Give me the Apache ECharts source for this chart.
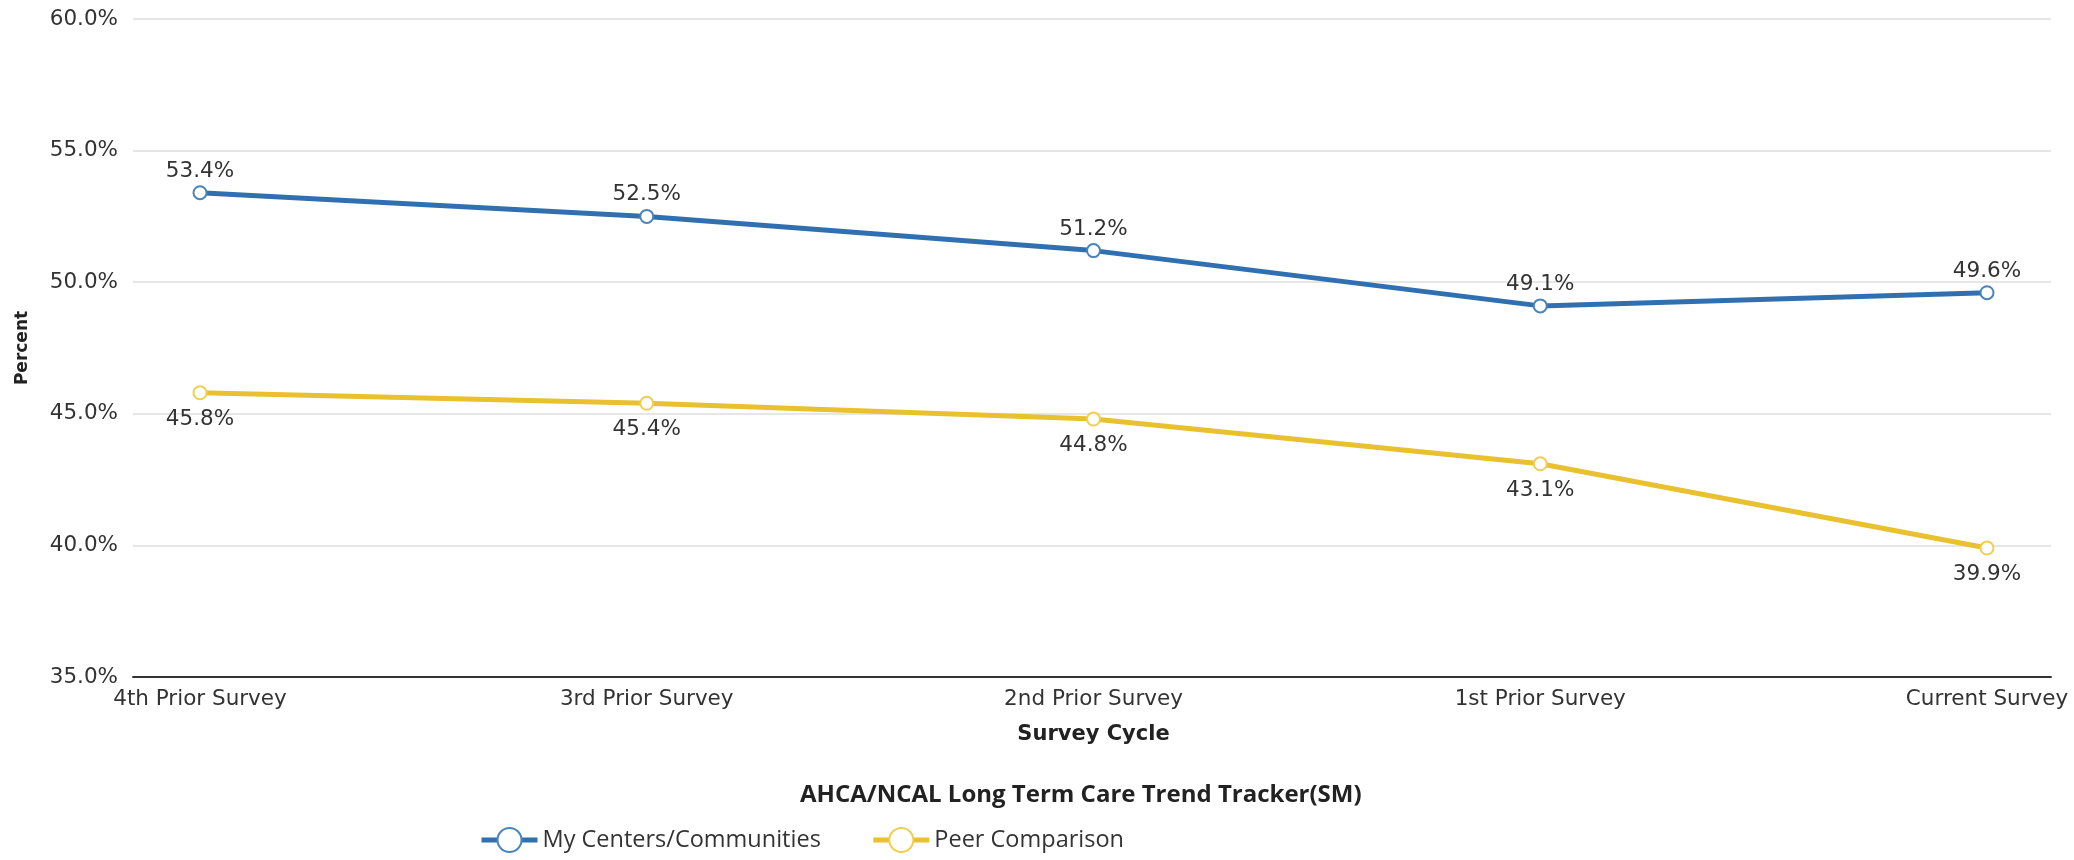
<!DOCTYPE html>
<html>
<head>
<meta charset="utf-8">
<script src="https://cdn.jsdelivr.net/npm/echarts@6/dist/echarts.min.js"></script>
<style>
  html, body { margin: 0; padding: 0; background: #fff; }
  #trendChart { width: 2074px; height: 860px; }
</style>
</head>
<body>
<div id="trendChart"></div>
<script>
// survey cycles and percent values
var surveyCycles = ['4th Prior Survey', '3rd Prior Survey', '2nd Prior Survey', '1st Prior Survey', 'Current Survey'];
var myCenters = [53.4, 52.5, 51.2, 49.1, 49.6];
var peerComparison = [45.8, 45.4, 44.8, 43.1, 39.9];
var percentTicks = [35, 40, 45, 50, 55, 60];

var chart = echarts.init(document.getElementById('trendChart'));
var axisFont = 'DejaVu Sans, Verdana, sans-serif';

var option = {
  animation: false,
  title: {
    text: 'AHCA/NCAL Long Term Care Trend Tracker(SM)',
    left: 795,
    top: 778,
    textStyle: { fontFamily: 'Open Sans', fontWeight: 'bold', fontSize: 24, color: '#222' }
  },
  legend: {
    left: 474,
    top: 822,
    itemWidth: 56,
    itemHeight: 30,
    itemGap: 50,
    lineStyle: { width: 5 },
    textStyle: { fontFamily: 'Open Sans', fontSize: 23.5, color: '#333' },
    data: ['My Centers/Communities', 'Peer Comparison']
  },
  grid: [
    // outer grid: gridlines and axis line span the full plot
    { left: 133, right: 23, top: 19, bottom: 183 },
    // inner grid: where the points sit
    { left: 200, right: 87, top: 19, bottom: 183 }
  ],
  xAxis: [{
    gridIndex: 0,
    type: 'value',
    min: 0,
    max: 1,
    axisLine: { show: true, lineStyle: { color: '#333', width: 2 } },
    axisTick: { show: false },
    axisLabel: { show: false },
    splitLine: { show: false }
  }, {
    gridIndex: 1,
    type: 'category',
    boundaryGap: false,
    data: surveyCycles,
    axisLine: { show: false },
    axisTick: { show: false },
    axisLabel: { margin: 11, fontFamily: axisFont, fontSize: 21.5, color: '#333' },
    name: 'Survey Cycle',
    nameLocation: 'middle',
    nameGap: 47,
    nameTextStyle: { fontFamily: axisFont, fontWeight: 'bold', fontSize: 21, color: '#222' }
  }],
  yAxis: [{
    gridIndex: 0,
    type: 'value',
    min: percentTicks[0],
    max: percentTicks[percentTicks.length - 1],
    interval: 5,
    axisLine: { show: false },
    axisTick: { show: false },
    axisLabel: {
      margin: 15,
      fontFamily: axisFont, fontSize: 21.5, color: '#333',
      formatter: function (v) { return v.toFixed(1) + '%'; }
    },
    splitLine: { lineStyle: { color: '#e6e6e6', width: 2 } },
    name: 'Percent',
    nameLocation: 'middle',
    nameGap: 102,
    nameTextStyle: { fontFamily: axisFont, fontWeight: 'bold', fontSize: 17, color: '#222' }
  }, {
    gridIndex: 1,
    type: 'value',
    min: percentTicks[0],
    max: percentTicks[percentTicks.length - 1],
    show: false,
    splitLine: { show: false }
  }],
  series: [{
    name: 'My Centers/Communities',
    type: 'line',
    xAxisIndex: 1,
    yAxisIndex: 1,
    data: myCenters,
    symbol: 'circle',
    symbolSize: 13,
    color: '#3170b0',
    lineStyle: { width: 5, color: '#3170b0' },
    itemStyle: { color: '#fff', borderColor: '#4a84bd', borderWidth: 2 },
    label: {
      show: true, position: 'top', distance: 3,
      fontFamily: axisFont, fontSize: 21.5, color: '#333',
      formatter: function (p) { return p.value.toFixed(1) + '%'; }
    }
  }, {
    name: 'Peer Comparison',
    type: 'line',
    xAxisIndex: 1,
    yAxisIndex: 1,
    data: peerComparison,
    symbol: 'circle',
    symbolSize: 13,
    color: '#e9c02e',
    lineStyle: { width: 5, color: '#e9c02e' },
    itemStyle: { color: '#fff', borderColor: '#f0cf4e', borderWidth: 2 },
    label: {
      show: true, position: 'bottom', distance: 8,
      fontFamily: axisFont, fontSize: 21.5, color: '#333',
      formatter: function (p) { return p.value.toFixed(1) + '%'; }
    }
  }]
};

chart.setOption(option);
</script>
</body>
</html>
